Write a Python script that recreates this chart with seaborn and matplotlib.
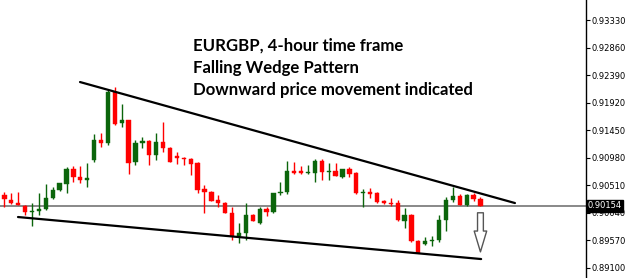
import numpy as np
import pandas as pd
import matplotlib
matplotlib.use("Agg")
import matplotlib.pyplot as plt
import seaborn as sns

# ---- data (EURGBP 4H candles) ----
opens = [0.90339, 0.90254, 0.90202, 0.90151, 0.90049, 0.90066, 0.90100, 0.90288, 0.90425, 0.90527,
         0.90783, 0.90647, 0.90595, 0.90937, 0.91279, 0.91228, 0.92099, 0.91570, 0.91621, 0.90903,
         0.91228, 0.91262, 0.91023, 0.91245, 0.91142, 0.91006, 0.90971, 0.90954, 0.90886, 0.90442,
         0.90390, 0.90254, 0.90202, 0.90031, 0.89638, 0.89690, 0.89997, 0.89861, 0.90100, 0.90049,
         0.90373, 0.90390, 0.90749, 0.90749, 0.90715, 0.90715, 0.90920, 0.90741, 0.90749, 0.90647,
         0.90783, 0.90715, 0.90373, 0.90390, 0.90373, 0.90237, 0.90202, 0.90202, 0.89895, 0.89997,
         0.89553, 0.89502, 0.89553, 0.89570, 0.89912, 0.90254, 0.90322, 0.90168, 0.90339, 0.90271]
highs = [0.90390, 0.90373, 0.90390, 0.90168, 0.90202, 0.90373, 0.90527, 0.90476, 0.90544, 0.90818,
         0.90835, 0.90835, 0.90886, 0.91382, 0.91399, 0.92134, 0.92185, 0.91894, 0.91621, 0.91279,
         0.91330, 0.91279, 0.91399, 0.91587, 0.91159, 0.91074, 0.90988, 0.90971, 0.90903, 0.90510,
         0.90407, 0.90339, 0.90219, 0.90134, 0.89861, 0.90202, 0.90014, 0.90134, 0.90134, 0.90373,
         0.90561, 0.90920, 0.90903, 0.90835, 0.90852, 0.90954, 0.90954, 0.90886, 0.90886, 0.90783,
         0.90818, 0.90732, 0.90442, 0.90459, 0.90390, 0.90254, 0.90288, 0.90254, 0.90117, 0.90014,
         0.89570, 0.89621, 0.89638, 0.89997, 0.90305, 0.90476, 0.90356, 0.90356, 0.90373, 0.90305]
lows = [0.90134, 0.90185, 0.90168, 0.89997, 0.89809, 0.89997, 0.90083, 0.90271, 0.90407, 0.90373,
        0.90561, 0.90544, 0.90476, 0.90903, 0.91159, 0.91194, 0.91535, 0.91501, 0.90698, 0.90852,
        0.91142, 0.90852, 0.90937, 0.91074, 0.90903, 0.90869, 0.90852, 0.90681, 0.90373, 0.90031,
        0.90237, 0.90134, 0.90031, 0.89570, 0.89519, 0.89570, 0.89895, 0.89844, 0.89980, 0.90031,
        0.90339, 0.90356, 0.90698, 0.90698, 0.90698, 0.90561, 0.90595, 0.90595, 0.90664, 0.90630,
        0.90647, 0.90356, 0.90134, 0.90288, 0.90202, 0.90185, 0.90151, 0.89895, 0.89775, 0.89536,
        0.89348, 0.89485, 0.89468, 0.89536, 0.89724, 0.90219, 0.90168, 0.90151, 0.90237, 0.90151]
closes = [0.90271, 0.90202, 0.90168, 0.90049, 0.90066, 0.90100, 0.90288, 0.90425, 0.90544, 0.90783,
          0.90647, 0.90595, 0.90630, 0.91279, 0.91228, 0.92099, 0.91552, 0.91621, 0.90886, 0.91228,
          0.91262, 0.91023, 0.91245, 0.91142, 0.90903, 0.90971, 0.90954, 0.90869, 0.90425, 0.90390,
          0.90237, 0.90202, 0.90031, 0.89638, 0.89690, 0.89997, 0.89895, 0.90100, 0.90049, 0.90373,
          0.90390, 0.90749, 0.90715, 0.90715, 0.90732, 0.90920, 0.90732, 0.90749, 0.90664, 0.90783,
          0.90698, 0.90373, 0.90390, 0.90356, 0.90219, 0.90202, 0.90194, 0.89912, 0.89997, 0.89553,
          0.89348, 0.89553, 0.89570, 0.89912, 0.90254, 0.90322, 0.90168, 0.90339, 0.90271, 0.90154]

last_price = 0.90154
price_ticks = [0.93330, 0.92860, 0.92390, 0.91920, 0.91450, 0.90980, 0.90510, 0.90040, 0.89570, 0.89100]

# wedge trend lines: (bar index, price)
upper_x = [10.96, 74.0]
upper_y = [0.92270, 0.90202]
lower_x = [1.97, 69.1]
lower_y = [0.89963, 0.89245]

# projected move arrow (bar index, start price, end price)
arrow_x = 69.0
arrow_from = 0.90083
arrow_to = 0.89320

title_lines = ["EURGBP, 4-hour time frame",
               "Falling Wedge Pattern",
               "Downward price movement indicated"]

# ---- styling ----
sns.set_style("white")
plt.rcParams["font.family"] = ["DejaVu Sans"]

df = pd.DataFrame({"open": opens, "high": highs, "low": lows, "close": closes})
df["idx"] = np.arange(len(df))
df["up"] = df["close"] >= df["open"]
green = "#0b650b"
red = "#ff0000"
df["color"] = np.where(df["up"], green, red)

W, H = 625, 278
fig = plt.figure(figsize=(W / 100, H / 100), dpi=100)
ax = fig.add_axes([0, 0, 586 / W, 1])

# wicks
ax.vlines(df["idx"], df["low"], df["high"], colors=df["color"], linewidth=1.0, zorder=2)
# bodies
body_bottom = np.minimum(df["open"], df["close"])
body_h = np.abs(df["close"] - df["open"])
body_h = np.maximum(body_h, 0.00004)
ax.bar(df["idx"], body_h, bottom=body_bottom, width=0.62, color=df["color"],
       edgecolor=df["color"], linewidth=0.3, zorder=3)

# bid line
ax.axhline(last_price, color="#7f7f7f", linewidth=1.3, zorder=1)

# trend lines
sns.lineplot(x=upper_x, y=upper_y, ax=ax, color="black", linewidth=1.6, zorder=4)
sns.lineplot(x=lower_x, y=lower_y, ax=ax, color="black", linewidth=1.6, zorder=4)

# arrow
ax.annotate("", xy=(arrow_x, arrow_to), xytext=(arrow_x, arrow_from),
            arrowprops=dict(arrowstyle="simple,head_width=0.9,head_length=1.5,tail_width=0.42",
                            fc="white", ec="#555555", lw=1.0), zorder=5)

# title text block
for i, t in enumerate(title_lines):
    ax.text(0.329, 0.836 - i * 0.079, t, transform=ax.transAxes, fontsize=12.1,
            fontweight="bold", family=["Lato", "DejaVu Sans"], color="black",
            va="center", ha="left")

ax.set_xlim(-0.64, 84.3)
ax.set_ylim(0.88921, 0.93672)

# right axis
ax.yaxis.tick_right()
ax.set_yticks(price_ticks)
ax.set_yticklabels([f"{v:.5f}" for v in price_ticks])
ax.tick_params(axis="y", which="both", direction="out", length=3, width=0.8, pad=1,
               labelsize=6, colors="black", right=True, left=False)
ax.set_xticks([])
for s in ["top", "left", "bottom"]:
    ax.spines[s].set_visible(False)
ax.spines["right"].set_visible(True)
ax.spines["right"].set_color("black")
ax.spines["right"].set_linewidth(1.0)

# current price box
ax.text(1.003, last_price, f"{last_price:.5f}", transform=ax.get_yaxis_transform(),
        fontsize=6, color="white", va="center", ha="left", zorder=10,
        bbox=dict(boxstyle="square,pad=0.15", fc="black", ec="black"))

fig.savefig("out.png", dpi=100)
